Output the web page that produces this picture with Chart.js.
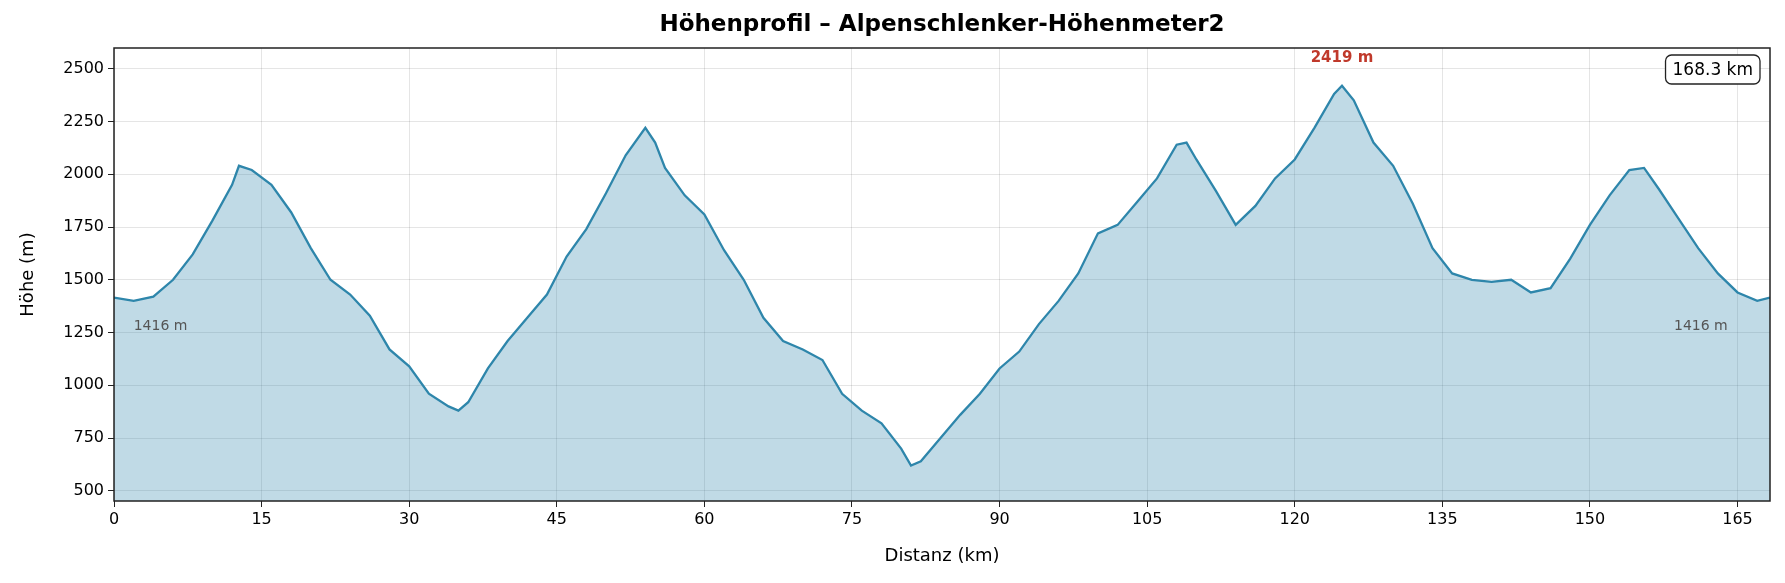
<!DOCTYPE html>
<html>
<head>
<meta charset="utf-8">
<script src="https://cdn.jsdelivr.net/npm/chart.js@4"></script>
<style>
  body { margin: 0; background: #fff; }
  #wrap { width: 1785px; height: 583px; }
</style>
</head>
<body>
<div id="wrap"><canvas id="profil"></canvas></div>
<script>
// distance (km) and elevation (m)
const distKm = [0, 2, 4, 6, 8, 10, 12, 12.7, 14, 16, 18, 20, 22, 24, 26, 28, 30, 32, 34, 35, 36, 38, 40, 42, 44, 46, 48, 50, 52, 54, 55, 56, 58, 60, 62, 64, 66, 68, 70, 72, 74, 76, 78, 80, 81, 82, 84, 86, 88, 90, 92, 94, 96, 98, 100, 102, 104, 106, 108, 109, 110, 112, 114, 116, 118, 120, 122, 124, 124.8, 126, 128, 130, 132, 134, 136, 138, 140, 142, 144, 146, 148, 150, 152, 154, 155.5, 157, 159, 161, 163, 165, 167, 168.3];
const hoehe = [1416, 1400, 1420, 1500, 1620, 1780, 1950, 2040, 2020, 1950, 1820, 1650, 1500, 1430, 1330, 1170, 1090, 960, 900, 880, 920, 1080, 1210, 1320, 1430, 1610, 1740, 1910, 2090, 2220, 2150, 2030, 1900, 1810, 1640, 1500, 1320, 1210, 1170, 1120, 960, 880, 820, 700, 620, 640, 750, 860, 960, 1080, 1160, 1290, 1400, 1530, 1720, 1760, 1870, 1980, 2140, 2150, 2070, 1920, 1760, 1850, 1980, 2070, 2220, 2380, 2419, 2350, 2150, 2040, 1860, 1650, 1530, 1500, 1490, 1500, 1440, 1460, 1600, 1760, 1900, 2020, 2030, 1930, 1790, 1650, 1530, 1440, 1400, 1416];
const titel = 'Höhenprofil – Alpenschlenker-Höhenmeter2';
const gesamtKm = 168.3;
const startHoehe = 1416, zielHoehe = 1416, maxHoehe = 2419, maxKm = 124.8;

const overlay = {
  id: 'overlay',
  afterDraw(chart) {
    const { ctx, chartArea: a, scales: { x, y } } = chart;
    ctx.save();
    ctx.strokeStyle = '#222';
    ctx.lineWidth = 1.5;
    ctx.strokeRect(a.left, a.top, a.right - a.left, a.bottom - a.top);

    ctx.fillStyle = '#000';
    ctx.font = 'bold 23px "DejaVu Sans"';
    ctx.textAlign = 'center';
    ctx.textBaseline = 'middle';
    ctx.fillText(titel, (a.left + a.right) / 2, 25);

    ctx.fillStyle = '#c0392b';
    ctx.font = 'bold 15px "DejaVu Sans"';
    ctx.fillText(maxHoehe + ' m', x.getPixelForValue(maxKm), 58);

    ctx.fillStyle = '#555';
    ctx.font = '14px "DejaVu Sans"';
    ctx.textAlign = 'left';
    ctx.fillText(startHoehe + ' m', x.getPixelForValue(2), y.getPixelForValue(1280));
    ctx.textAlign = 'right';
    ctx.fillText(zielHoehe + ' m', x.getPixelForValue(164), y.getPixelForValue(1280));

    ctx.font = '17px "DejaVu Sans"';
    const txt = gesamtKm + ' km';
    const w = ctx.measureText(txt).width + 14;
    const bx = a.right - 10 - w, by = 55, bh = 29;
    ctx.beginPath();
    ctx.roundRect(bx, by, w, bh, 6);
    ctx.fillStyle = '#fff';
    ctx.fill();
    ctx.strokeStyle = '#222';
    ctx.lineWidth = 1.3;
    ctx.stroke();
    ctx.fillStyle = '#000';
    ctx.textAlign = 'center';
    ctx.fillText(txt, bx + w / 2, by + bh / 2 + 1);
    ctx.restore();
  }
};

new Chart(document.getElementById('profil'), {
  type: 'line',
  data: {
    datasets: [{
      data: distKm.map((d, i) => ({ x: d, y: hoehe[i] })),
      borderColor: '#2e86ab',
      backgroundColor: 'rgba(46,134,171,0.3)',
      borderWidth: 2.3,
      pointRadius: 0,
      fill: 'start',
      tension: 0
    }]
  },
  options: {
    responsive: true,
    maintainAspectRatio: false,
    animation: false,
    layout: { padding: { top: 48, right: 15, left: 14, bottom: 12 } },
    plugins: { legend: { display: false }, tooltip: { enabled: false } },
    scales: {
      x: {
        type: 'linear',
        min: 0, max: gesamtKm,
        afterBuildTicks(s) { s.ticks = [0,15,30,45,60,75,90,105,120,135,150,165].map(v => ({ value: v })); },
        afterFit(s) { s.height = 70; },
        grid: { color: 'rgba(0,0,0,0.1)', tickColor: '#222', tickLength: 6 },
        border: { display: false },
        ticks: { color: '#000', font: { size: 16, family: 'DejaVu Sans' }, padding: 3, maxRotation: 0, callback: v => String(v) },
        title: { display: true, text: 'Distanz (km)', color: '#000', font: { size: 18, family: 'DejaVu Sans' }, padding: { top: 4 } }
      },
      y: {
        min: 452, max: 2598,
        afterBuildTicks(s) { s.ticks = [500,750,1000,1250,1500,1750,2000,2250,2500].map(v => ({ value: v })); },
        afterFit(s) { s.width = 100; },
        grid: { color: 'rgba(0,0,0,0.1)', tickColor: '#222', tickLength: 6 },
        border: { display: false },
        ticks: { color: '#000', font: { size: 16, family: 'DejaVu Sans' }, padding: 4, callback: v => String(v) },
        title: { display: true, text: 'Höhe (m)', color: '#000', font: { size: 18, family: 'DejaVu Sans' }, padding: { bottom: 0 } }
      }
    }
  },
  plugins: [overlay]
});
</script>
</body>
</html>
